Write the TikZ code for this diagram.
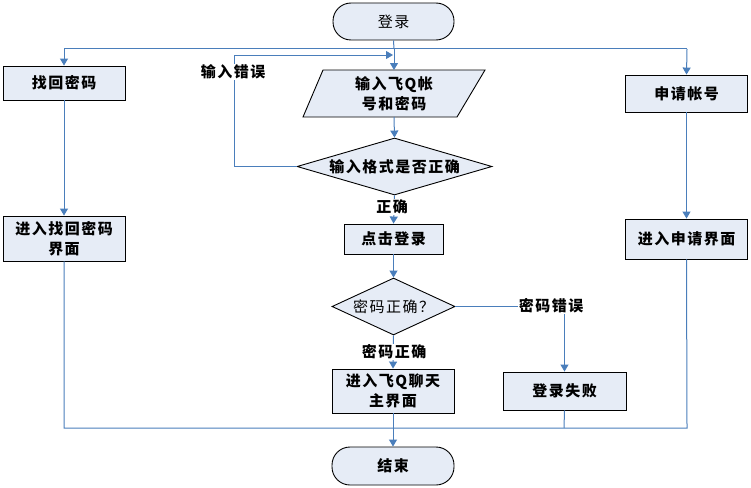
\documentclass[tikz,border=0pt]{standalone}
\usepackage{fontspec}
\setmainfont{Noto Sans CJK SC}[LetterSpace=10]
\usetikzlibrary{shapes.geometric,arrows.meta}
\definecolor{lineblue}{HTML}{4A7EBB}
\definecolor{boxfill}{HTML}{E6ECF6}
\tikzset{
  box/.style={draw=black, fill=boxfill, line width=0.9pt, align=center, inner sep=0pt, font=\fontsize{15}{18}\selectfont\bfseries},
  term/.style={box, rounded corners=18pt},
  dec/.style={draw=black, fill=boxfill, line width=0.9pt, diamond, inner sep=0pt, font=\fontsize{15}{18}\selectfont\bfseries},
  conn/.style={draw=lineblue, line width=1pt},
  arr/.style={conn, -{Triangle[length=7pt,width=8pt]}},
  lab/.style={fill=white, inner sep=1pt, font=\fontsize{15}{18}\selectfont\bfseries}
}
\begin{document}
\begin{tikzpicture}[x=1pt,y=-1pt]
\useasboundingbox (0,0) rectangle (751,487);
% nodes
\node[term, minimum width=121pt, minimum height=37pt, font=\fontsize{15}{18}\selectfont] (start) at (393.5,21.5) {登录};
\draw[draw=black, fill=boxfill, line width=0.9pt] (323,70) -- (485,70) -- (457,117) -- (303,117) -- cycle;
\node[font=\fontsize{15}{20}\selectfont\bfseries, align=center] (input) at (394,93.5) {输入飞Q帐\\号和密码};
\coordinate (inT) at (394,70);
\coordinate (inB) at (394,117);
\node[dec, minimum width=195pt, minimum height=57pt, aspect=3.4] (fmt) at (394.5,166.5) {输入格式是否正确};
\node[box, minimum width=99pt, minimum height=30pt] (click) at (393.5,239) {点击登录};
\node[dec, minimum width=123pt, minimum height=57pt, aspect=2.2, font=\fontsize{15}{18}\selectfont] (pwd) at (393.5,306.5) {密码正确？};
\node[box, minimum width=122pt, minimum height=44pt, font=\fontsize{15}{20}\selectfont\bfseries] (main) at (393,391) {进入飞Q聊天\\主界面};
\node[box, minimum width=123pt, minimum height=38pt] (fail) at (564.5,391) {登录失败};
\node[term, minimum width=122pt, minimum height=38pt] (end) at (393,466) {结束};
\node[box, minimum width=122pt, minimum height=34pt] (find) at (64,83) {找回密码};
\node[box, minimum width=122pt, minimum height=45pt, font=\fontsize{15}{20}\selectfont\bfseries] (findui) at (64,238.5) {进入找回密码\\界面};
\node[box, minimum width=122pt, minimum height=37pt] (apply) at (686.5,93.5) {申请帐号};
\node[box, minimum width=122pt, minimum height=40pt] (applyui) at (686.5,239) {进入申请界面};
% junction coordinates
\coordinate (tl) at (64,49);
\coordinate (tr) at (687,49);
\coordinate (tm) at (394,49);
\coordinate (bl) at (64,428);
\coordinate (br) at (687,428);
\coordinate (bm) at (394,428);
\coordinate (bf) at (564,428);
\coordinate (loopL) at (234,166.5);
\coordinate (loopT) at (234,55);
\coordinate (loopE) at (393,55);
% connectors
\draw[conn] (start.south) -- (tm);
\draw[arr] (tm) -- (inT);
\draw[conn] (tl) -- (tr);
\draw[arr] (tl) -- (find.north);
\draw[arr] (tr) -- (apply.north);
\draw[arr] (find.south) -- (findui.north);
\draw[arr] (apply.south) -- (applyui.north);
\draw[arr] (inB) -- (fmt.north);
\draw[arr] (fmt.west) -- (loopL) -- (loopT) -- (loopE);
\node[lab] (errlab) at (233,72) {输入错误};
\draw[arr] (fmt.south) -- (click.north);
\node[lab] (oklab) at (392,207) {正确};
\draw[arr] (click.south) -- (pwd.north);
\draw[arr] (pwd.east) -| (fail.north);
\node[lab] (pwdbad) at (551,306) {密码错误};
\draw[arr] (pwd.south) -- (main.north);
\node[lab] (pwdok) at (394,352) {密码正确};
\draw[conn] (findui.south) -- (bl) -- (br) -- (applyui.south);
\draw[conn] (fail.south) -- (bf);
\draw[arr] (main.south) -- (end.north);
\end{tikzpicture}
\end{document}
